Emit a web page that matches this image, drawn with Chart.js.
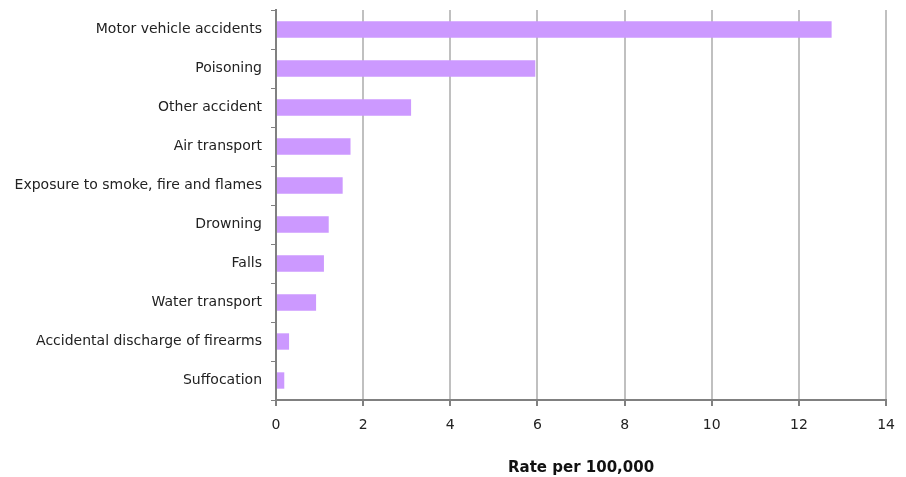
<!DOCTYPE html>
<html>
<head>
<meta charset="utf-8">
<script src="https://cdn.jsdelivr.net/npm/chart.js@4.4.0/dist/chart.umd.min.js"></script>
<style>
  html, body { margin: 0; padding: 0; background: #fff; }
  #wrap { width: 906px; height: 477px; }
</style>
</head>
<body>
<div id="wrap"><canvas id="injuryChart" width="906" height="477"></canvas></div>
<script>
// Data
const categories = [
    'Motor vehicle accidents',
    'Poisoning',
    'Other accident',
    'Air transport',
    'Exposure to smoke, fire and flames',
    'Drowning',
    'Falls',
    'Water transport',
    'Accidental discharge of firearms',
    'Suffocation'
];
const rates = [12.75, 5.95, 3.1, 1.71, 1.53, 1.21, 1.1, 0.92, 0.3, 0.19];
const xTicks = [0, 2, 4, 6, 8, 10, 12, 14];
const axisTitle = 'Rate per 100,000';

const labelFont = { family: 'DejaVu Sans', size: 14 };

new Chart(document.getElementById('injuryChart').getContext('2d'), {
    type: 'bar',
    data: {
        labels: categories,
        datasets: [{
            data: rates,
            backgroundColor: '#CC99FF',
            borderWidth: 0,
            barPercentage: 0.42,
            categoryPercentage: 1
        }]
    },
    options: {
        indexAxis: 'y',
        responsive: false,
        animation: false,
        layout: { padding: { left: 0, right: 12, top: 10, bottom: 0 } },
        plugins: {
            legend: { display: false },
            tooltip: { enabled: false }
        },
        scales: {
            x: {
                min: xTicks[0],
                max: xTicks[xTicks.length - 1],
                afterBuildTicks: scale => {
                    scale.ticks = xTicks.map(v => ({ value: v }));
                },
                afterFit: scale => { scale.height = 77; },
                grid: {
                    color: '#c0c0c0',
                    lineWidth: 2,
                    tickColor: '#808080',
                    tickLength: 6
                },
                border: { color: '#808080', width: 2 },
                ticks: { color: '#222', font: labelFont, padding: 11 },
                title: {
                    display: true,
                    text: axisTitle,
                    color: '#111',
                    font: { family: 'DejaVu Sans', size: 15, weight: 'bold' },
                    padding: { top: 18, bottom: 0 }
                }
            },
            y: {
                afterFit: scale => {
                    scale.width = 276;
                    scale.paddingTop = 0;
                    scale.paddingBottom = 0;
                },
                grid: {
                    offset: true,
                    drawOnChartArea: false,
                    tickColor: '#808080',
                    tickLength: 5
                },
                border: { color: '#808080', width: 2 },
                ticks: { color: '#222', font: labelFont, padding: 9 }
            }
        }
    }
});
</script>
</body>
</html>
